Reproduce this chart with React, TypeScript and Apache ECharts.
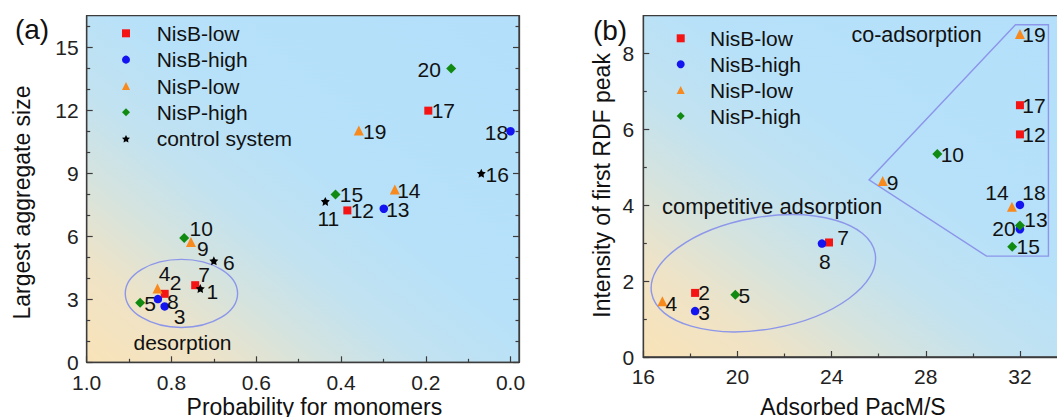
import React, { useEffect, useRef } from 'react';
import * as echarts from 'echarts';

const FONT = 'Liberation Sans, Arial, Helvetica, sans-serif';

// ---------- Panel (a) data: probability for monomers vs largest aggregate size ----------
const aIdsNisBLow = ['2', '7', '12', '17'];
const aXNisBLow = [0.816, 0.744, 0.385, 0.194];
const aYNisBLow = [3.26, 3.67, 7.23, 11.98];
const aIdsNisBHigh = ['3', '8', '13', '18'];
const aXNisBHigh = [0.816, 0.832, 0.299, 0.0];
const aYNisBHigh = [2.66, 3.01, 7.31, 11.0];
const aIdsNisPLow = ['4', '9', '14', '19'];
const aXNisPLow = [0.833, 0.754, 0.273, 0.358];
const aYNisPLow = [3.51, 5.73, 8.23, 11.03];
const aIdsNisPHigh = ['5', '10', '15', '20'];
const aXNisPHigh = [0.874, 0.77, 0.413, 0.14];
const aYNisPHigh = [2.83, 5.92, 7.99, 13.99];
const aIdsControl = ['1', '6', '11', '16'];
const aXControl = [0.732, 0.7, 0.437, 0.069];
const aYControl = [3.51, 4.83, 7.66, 9.0];

// ---------- Panel (b) data: adsorbed PacM/S vs intensity of first RDF peak ----------
const bIdsNisBLow = ['2', '7', '12', '17'];
const bXNisBLow = [18.2, 23.89, 32.0, 32.0];
const bYNisBLow = [1.69, 3.02, 5.87, 6.64];
const bIdsNisBHigh = ['3', '8', '13', '18'];
const bXNisBHigh = [18.2, 23.59, 32.0, 32.0];
const bYNisBHigh = [1.21, 2.99, 3.37, 4.01];
const bIdsNisPLow = ['4', '9', '14', '19'];
const bXNisPLow = [16.81, 26.17, 31.66, 32.0];
const bYNisPLow = [1.47, 4.64, 3.96, 8.52];
const bIdsNisPHigh = ['5', '10', '15', '20'];
const bXNisPHigh = [19.91, 28.49, 31.67, 32.0];
const bYNisPHigh = [1.64, 5.35, 2.91, 3.47];

// ---------- Ticks ----------
const aXMajorTicks = [0, 0.2, 0.4, 0.6, 0.8, 1.0];
const aXMinorTicks = [0.1, 0.3, 0.5, 0.7, 0.9];
const aYMajorTicks = [0, 3, 6, 9, 12, 15];
const aYMinorTicks = [1, 2, 4, 5, 7, 8, 10, 11, 13, 14, 16];
const bXMajorTicks = [16, 20, 24, 28, 32];
const bXMinorTicks = [18, 22, 26, 30];
const bYMajorTicks = [0, 2, 4, 6, 8];
const bYMinorTicks = [1, 3, 5, 7];

const legendA = ['NisB-low', 'NisB-high', 'NisP-low', 'NisP-high', 'control system'];
const legendB = ['NisB-low', 'NisB-high', 'NisP-low', 'NisP-high'];

// ---------- Annotations (data coordinates) ----------
const desorptionEllipse = { cx: 0.7765, cy: 3.28, rx: 0.1325, ry: 1.62 };
const desorptionLabel = { x: 0.774, y: 0.93, text: 'desorption' };
const competitiveCenter = { x: 21.1, y: 2.21 };
const competitiveLabel = { x: 21.47, y: 3.96, text: 'competitive adsorption' };
const coAdsorptionPolygon = [
  [31.81, 8.76],
  [33.21, 8.76],
  [33.21, 2.66],
  [30.58, 2.66],
  [25.59, 4.67],
];
const coAdsorptionLabel = { x: 27.61, y: 8.49, text: 'co-adsorption' };

// ---------- Label offsets (px, relative to marker centre) ----------
const labelOffsetA: Record<string, [number, number]> = {
  '1': [12, 3], '2': [11, -11], '3': [15, 10], '4': [7, -15], '5': [10, 1],
  '6': [15, 2], '7': [9, -11], '8': [15, 2], '9': [12, 7], '10': [17, -9],
  '11': [3, 17], '12': [15, 0], '13': [14, 1], '14': [14, 1], '15': [16, 0],
  '16': [16, 1], '17': [15, 0], '18': [-14, 1], '19': [16, 1], '20': [-22, 1],
};
const labelOffsetB: Record<string, [number, number]> = {
  '2': [9, 0], '3': [9, 1], '4': [9, 2], '5': [9, 1], '7': [14, -5], '8': [3, 18],
  '9': [10, 1], '10': [15, 0], '12': [14, 0], '13': [16, -10], '14': [-15, -14],
  '15': [16, 0], '17': [14, 0], '18': [14, -12], '19': [14, 1], '20': [-16, 3],
};

const STAR = 'path://M0,-10 L2.94,-4.05 L9.51,-3.09 L4.76,1.55 L5.88,8.09 L0,5 L-5.88,8.09 L-4.76,1.55 L-9.51,-3.09 L-2.94,-4.05 Z';

const styles: Record<string, { symbol: string; size: number; color: string }> = {
  'NisB-low': { symbol: 'rect', size: 8, color: '#f41414' },
  'NisB-high': { symbol: 'circle', size: 8.5, color: '#1414f0' },
  'NisP-low': { symbol: 'triangle', size: 10, color: '#f8891c' },
  'NisP-high': { symbol: 'diamond', size: 10, color: '#118a11' },
  'control system': { symbol: STAR, size: 9, color: '#000000' },
};

const AXIS_COLOR = '#3c3c3c';

const bg = {
  type: 'linear', x: 0, y: 1, x2: 1, y2: 0,
  colorStops: [
    { offset: 0, color: '#f9e3b8' },
    { offset: 0.14, color: '#efe3c6' },
    { offset: 0.27, color: '#d5e3de' },
    { offset: 0.39, color: '#c2e2f0' },
    { offset: 0.55, color: '#b7e1f9' },
    { offset: 1, color: '#b3dffb' },
  ],
};

function mkSeries(name: string, ids: string[], xs: number[], ys: number[], xi: number, yi: number, offs: Record<string, [number, number]>) {
  const st = styles[name];
  return {
    type: 'scatter',
    name,
    xAxisIndex: xi,
    yAxisIndex: yi,
    symbol: st.symbol,
    symbolSize: st.size,
    itemStyle: { color: st.color, opacity: 1 },
    z: 5,
    silent: true,
    label: { show: true, position: 'inside', formatter: '{b}', color: '#111', fontSize: 21, fontFamily: FONT },
    data: ids.map((id, i) => ({ name: id, value: [xs[i], ys[i]], label: { offset: offs[id] } })),
  };
}

const GA = { left: 86.7, top: 15.7, width: 432.3, height: 346.6 };
const GB = { left: 643.3, top: 15.7, width: 470.8, height: 341.3 };

function mainX(grid: number, min: number, max: number, ticks: number[], inverse: boolean, fmt: (v: number) => string, margin: number) {
  return {
    type: 'value', gridIndex: grid, min, max, inverse, position: 'bottom',
    axisLine: { show: true, onZero: false, lineStyle: { color: AXIS_COLOR, width: 1.3 } },
    axisTick: { show: true, inside: true, length: 6, customValues: ticks, lineStyle: { color: AXIS_COLOR, width: 1.2 } },
    axisLabel: { show: true, margin, customValues: ticks, formatter: fmt, fontSize: 21, color: '#222', fontFamily: FONT },
    splitLine: { show: false },
  };
}
function minorX(grid: number, min: number, max: number, ticks: number[], inverse: boolean) {
  return {
    type: 'value', gridIndex: grid, min, max, inverse, position: 'bottom',
    axisLine: { show: false, onZero: false },
    axisTick: { show: true, inside: true, length: 3.5, customValues: ticks, lineStyle: { color: AXIS_COLOR, width: 1.2 } },
    axisLabel: { show: false },
    splitLine: { show: false },
  };
}
function mainY(grid: number, min: number, max: number, ticks: number[], position: string, labels: boolean, margin: number) {
  return {
    type: 'value', gridIndex: grid, min, max, position,
    axisLine: { show: true, onZero: false, lineStyle: { color: AXIS_COLOR, width: 1.3 } },
    axisTick: { show: true, inside: true, length: 6, customValues: ticks, lineStyle: { color: AXIS_COLOR, width: 1.2 } },
    axisLabel: { show: labels, margin, customValues: ticks, fontSize: 21, color: '#222', fontFamily: FONT },
    splitLine: { show: false },
  };
}
function minorY(grid: number, min: number, max: number, ticks: number[], position: string) {
  return {
    type: 'value', gridIndex: grid, min, max, position,
    axisLine: { show: false, onZero: false },
    axisTick: { show: true, inside: true, length: 3.5, customValues: ticks, lineStyle: { color: AXIS_COLOR, width: 1.2 } },
    axisLabel: { show: false },
    splitLine: { show: false },
  };
}

function legendData(names: string[]) {
  return names.map((n) => ({ name: n, icon: styles[n].symbol }));
}

export default function App() {
  const ref = useRef<HTMLDivElement>(null);
  useEffect(() => {
    if (!ref.current) return;
    const chart = echarts.init(ref.current, null, { renderer: 'svg' });
    const option: any = {
      animation: false,
      backgroundColor: '#ffffff',
      textStyle: { fontFamily: FONT },
      grid: [
        { ...GA, show: true, backgroundColor: bg, borderColor: AXIS_COLOR, borderWidth: 1.3, outerBoundsMode: 'none' },
        { ...GB, show: true, backgroundColor: bg, borderColor: AXIS_COLOR, borderWidth: 1.3, outerBoundsMode: 'none' },
        { ...GA, show: false, outerBoundsMode: 'none' },
        { ...GB, show: false, outerBoundsMode: 'none' },
      ],
      xAxis: [
        mainX(0, -0.02, 1, aXMajorTicks, true, (v: number) => v.toFixed(1), 10),
        mainX(1, 16, 36, bXMajorTicks, false, (v: number) => String(v), 9),
        minorX(2, -0.02, 1, aXMinorTicks, true),
        minorX(3, 16, 36, bXMinorTicks, false),
      ],
      yAxis: [
        mainY(0, 0, 16.5, aYMajorTicks, 'left', true, 8),
        mainY(0, 0, 16.5, aYMajorTicks, 'right', false, 8),
        mainY(1, 0, 9, bYMajorTicks, 'left', true, 9),
        minorY(2, 0, 16.5, aYMinorTicks, 'left'),
        minorY(2, 0, 16.5, aYMinorTicks, 'right'),
        minorY(3, 0, 9, bYMinorTicks, 'left'),
      ],
      legend: [
        {
          orient: 'vertical', left: 122, top: 22.8, padding: 0, itemWidth: 8, itemHeight: 8, itemGap: 5.35,
          selectedMode: false, data: legendData(legendA),
          textStyle: { fontSize: 21, color: '#111', fontFamily: FONT, padding: [0, 0, 0, 21.7] },
        },
        {
          orient: 'vertical', left: 676.7, top: 27.8, padding: 0, itemWidth: 8, itemHeight: 8, itemGap: 4.9,
          selectedMode: false, data: legendData(legendB),
          textStyle: { fontSize: 21, color: '#111', fontFamily: FONT, padding: [0, 0, 0, 20.3] },
        },
      ],
      series: [
        mkSeries('NisB-low', aIdsNisBLow, aXNisBLow, aYNisBLow, 0, 0, labelOffsetA),
        mkSeries('NisB-high', aIdsNisBHigh, aXNisBHigh, aYNisBHigh, 0, 0, labelOffsetA),
        mkSeries('NisP-low', aIdsNisPLow, aXNisPLow, aYNisPLow, 0, 0, labelOffsetA),
        mkSeries('NisP-high', aIdsNisPHigh, aXNisPHigh, aYNisPHigh, 0, 0, labelOffsetA),
        mkSeries('control system', aIdsControl, aXControl, aYControl, 0, 0, labelOffsetA),
        mkSeries('NisB-low', bIdsNisBLow, bXNisBLow, bYNisBLow, 1, 2, labelOffsetB),
        mkSeries('NisB-high', bIdsNisBHigh, bXNisBHigh, bYNisBHigh, 1, 2, labelOffsetB),
        mkSeries('NisP-low', bIdsNisPLow, bXNisPLow, bYNisPLow, 1, 2, labelOffsetB),
        mkSeries('NisP-high', bIdsNisPHigh, bXNisPHigh, bYNisPHigh, 1, 2, labelOffsetB),
      ],
    };
    chart.setOption(option);

    const pa = (x: number, y: number) => chart.convertToPixel({ xAxisIndex: 0, yAxisIndex: 0 }, [x, y]) as number[];
    const pb = (x: number, y: number) => chart.convertToPixel({ xAxisIndex: 1, yAxisIndex: 2 }, [x, y]) as number[];

    const ec = pa(desorptionEllipse.cx, desorptionEllipse.cy);
    const ex = pa(desorptionEllipse.cx - desorptionEllipse.rx, desorptionEllipse.cy);
    const ey = pa(desorptionEllipse.cx, desorptionEllipse.cy + desorptionEllipse.ry);
    const dl = pa(desorptionLabel.x, desorptionLabel.y);
    const cc = pb(competitiveCenter.x, competitiveCenter.y);
    const cl = pb(competitiveLabel.x, competitiveLabel.y);
    const col = pb(coAdsorptionLabel.x, coAdsorptionLabel.y);
    const poly = coAdsorptionPolygon.map((p) => pb(p[0], p[1]));
    const annoColor = '#8c96ea';
    const txt = (x: number, y: number, text: string, size: number, extra: any = {}) => ({
      type: 'text', x, y, z: 10, silent: true, ...extra,
      style: { text, fontSize: size, fontFamily: FONT, fill: '#111', align: 'center', verticalAlign: 'middle' },
    });

    chart.setOption({
      graphic: [
        { type: 'ellipse', z: 1, silent: true, shape: { cx: ec[0], cy: ec[1], rx: Math.abs(ex[0] - ec[0]), ry: Math.abs(ey[1] - ec[1]) }, style: { fill: 'none', stroke: annoColor, lineWidth: 1.4 } },
        { type: 'ellipse', z: 1, silent: true, x: cc[0], y: cc[1], rotation: (10 * Math.PI) / 180, shape: { cx: 0, cy: 0, rx: 113.5, ry: 56 }, style: { fill: 'none', stroke: annoColor, lineWidth: 1.4 } },
        { type: 'polygon', z: 1, silent: true, shape: { points: poly }, style: { fill: 'none', stroke: annoColor, lineWidth: 1.4 } },
        txt(dl[0], dl[1], desorptionLabel.text, 21),
        txt(cl[0], cl[1], competitiveLabel.text, 22),
        txt(col[0], col[1], coAdsorptionLabel.text, 21.5),
        txt(32, 29.5, '(a)', 28),
        txt(610, 30, '(b)', 28),
        txt(314.4, 406.5, 'Probability for monomers', 23),
        txt(22, 202.5, 'Largest aggregate size', 23, { rotation: Math.PI / 2 }),
        txt(853, 407, 'Adsorbed PacM/S', 23),
        txt(601.6, 185.4, 'Intensity of first RDF peak', 23, { rotation: Math.PI / 2 }),
      ],
    });

    return () => chart.dispose();
  }, []);
  return <div ref={ref} style={{ position: 'absolute', left: 0, top: 0, width: 1057, height: 417 }} />;
}
